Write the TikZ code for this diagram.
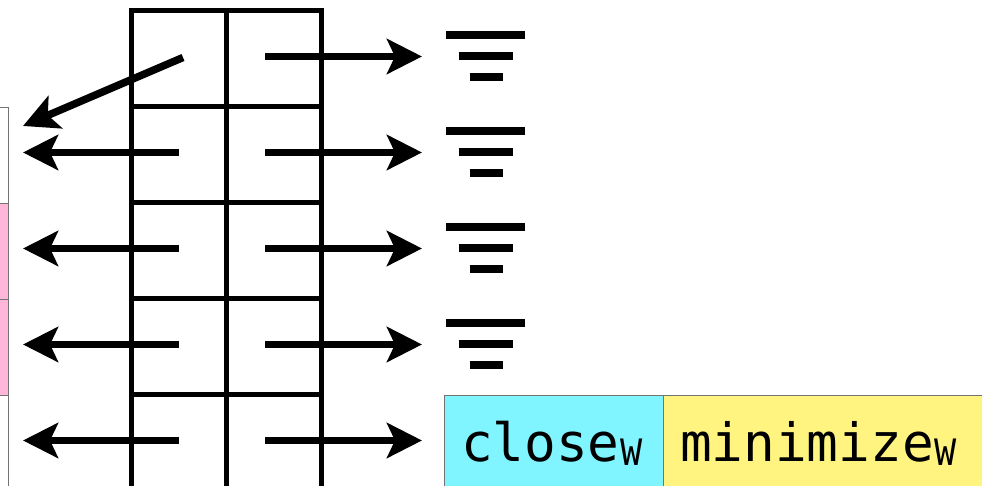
\documentclass[tikz,border=0pt]{standalone}
\usepackage{fontspec}
\setmonofont{DejaVu Sans Mono}
\usetikzlibrary{arrows.meta}
\definecolor{stackpink}{HTML}{FFB6D9}
\definecolor{closecyan}{HTML}{80F4FF}
\definecolor{minyellow}{HTML}{FFF47F}
\newcommand{\subw}{\hspace{0.2mm}\raisebox{-0.8mm}{\scalebox{0.7}[0.92]{w}}}
\tikzset{
  gridline/.style={line width=1mm},
  ptr/.style={line width=1.5mm,-{Stealth[length=7mm,width=7mm,inset=1.6mm]}},
  stackcell/.style={draw=black!55,line width=0.2mm,anchor=north east,minimum width=8mm,minimum height=19.2mm,inner sep=0pt},
  wordcell/.style={draw=black!55,line width=0.2mm,anchor=north west,inner ysep=0pt,inner xsep=3.3mm,align=left,text height=13.2mm,text depth=12mm,font=\ttfamily\fontsize{30}{32}\selectfont},
  pics/nullbars/.style={code={
    \draw[line width=1.5mm] (-39.5,-21) -- (39.5,-21);
    \draw[line width=1.5mm] (-27,0) -- (27,0);
    \draw[line width=1.5mm] (-16,21) -- (17,21);
  }}
}
\begin{document}
\begin{tikzpicture}[x=0.2mm,y=-0.2mm]
  \clip (0,0) rectangle (982,486);

  % stack on the left
  \node [stackcell,fill=white] (S1) at (9,107) {};
  \node [stackcell,fill=stackpink] (S2) at (9,203) {};
  \node [stackcell,fill=stackpink] (S3) at (9,299) {};
  \node [stackcell,fill=white,minimum height=30mm] (S4) at (9,395) {};

  % words
  \node [wordcell,fill=closecyan,text width=37.2mm] (close) at (444,395) {close\subw};
  \node [wordcell,fill=minyellow,text width=60mm] (minimize) at (663,395) {minimize\subw};

  % grid
  \coordinate (G0l) at (131.5,10.5);
  \coordinate (G0m) at (226.5,10.5);
  \coordinate (G0r) at (321.5,10.5);
  \coordinate (G1l) at (131.5,106.5);
  \coordinate (G1r) at (321.5,106.5);
  \coordinate (G2l) at (131.5,202.5);
  \coordinate (G2r) at (321.5,202.5);
  \coordinate (G3l) at (131.5,298.5);
  \coordinate (G3r) at (321.5,298.5);
  \coordinate (G4l) at (131.5,394.5);
  \coordinate (G4r) at (321.5,394.5);
  \coordinate (Bl) at (131.5,490);
  \coordinate (Bm) at (226.5,490);
  \coordinate (Br) at (321.5,490);

  \draw [gridline] (Bl) -- (G0l) -- (G0r) -- (Br);
  \draw [gridline] (G0m) -- (Bm);
  \draw [gridline] (G1l) -- (G1r);
  \draw [gridline] (G2l) -- (G2r);
  \draw [gridline] (G3l) -- (G3r);
  \draw [gridline] (G4l) -- (G4r);

  % left pointers
  \coordinate (A1) at (183,57.5);
  \coordinate (A2) at (179,152.5);
  \coordinate (A3) at (179,248.5);
  \coordinate (A4) at (179,344.5);
  \coordinate (A5) at (179,440.5);
  \coordinate (T1) at (23,126);
  \coordinate (T2) at (23,152.5);
  \coordinate (T3) at (23,248.5);
  \coordinate (T4) at (23,344.5);
  \coordinate (T5) at (23,440.5);

  \draw [ptr] (A1) -- (T1);
  \draw [ptr] (A2) -- (T2);
  \draw [ptr] (A3) -- (T3);
  \draw [ptr] (A4) -- (T4);
  \draw [ptr] (A5) -- (T5);

  % right pointers
  \coordinate (B1) at (265,56.5);
  \coordinate (B2) at (265,152.5);
  \coordinate (B3) at (265,248.5);
  \coordinate (B4) at (265,344.5);
  \coordinate (B5) at (265,440.5);
  \coordinate (N1) at (422,56.5);
  \coordinate (N2) at (422,152.5);
  \coordinate (N3) at (422,248.5);
  \coordinate (N4) at (422,344.5);
  \coordinate (N5) at (422,440.5);

  \draw [ptr] (B1) -- (N1);
  \draw [ptr] (B2) -- (N2);
  \draw [ptr] (B3) -- (N3);
  \draw [ptr] (B4) -- (N4);
  \draw [ptr] (B5) -- (N5);

  % null markers
  \pic at (485.5,56) {nullbars};
  \pic at (485.5,152) {nullbars};
  \pic at (485.5,248) {nullbars};
  \pic at (485.5,344) {nullbars};
\end{tikzpicture}
\end{document}
